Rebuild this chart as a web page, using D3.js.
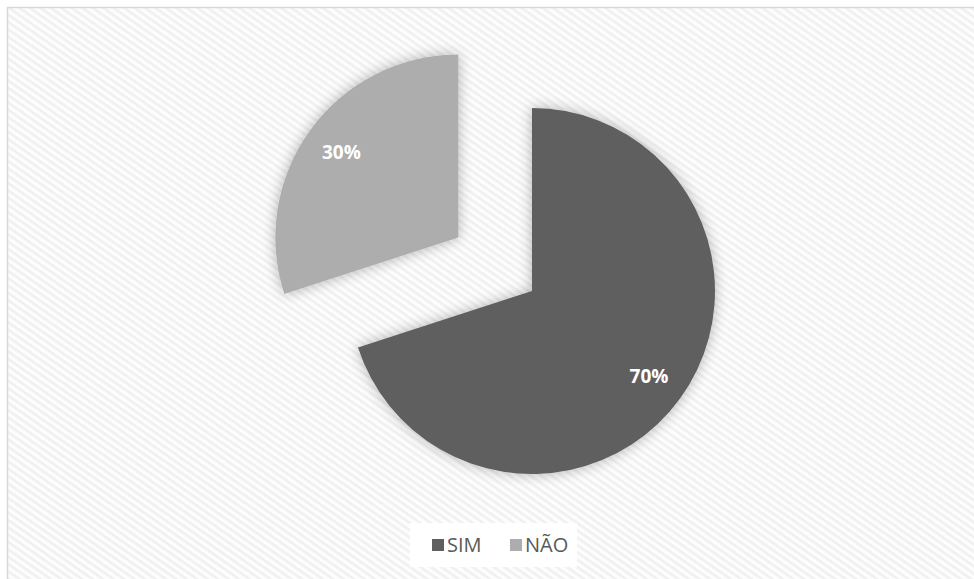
<!DOCTYPE html>
<html>
<head>
<meta charset="utf-8">
<script src="https://cdn.jsdelivr.net/npm/d3@7"></script>
<style>
  body { margin: 0; background: #ffffff; }
  svg { display: block; }
</style>
</head>
<body>
<script>
// chart data
const categories = ["SIM", "NÃO"];
const values = [70, 30];
const colors = ["#5f5f5f", "#adadad"];
const labels = ["70%", "30%"];
const explode = [0, 91];

const width = 974, height = 579;
const cx = 532, cy = 291, radius = 183;

const svg = d3.select("body").append("svg")
    .attr("width", width)
    .attr("height", height);

const defs = svg.append("defs");

// diagonal hatch for the chart area (lines running top-left to bottom-right)
const pat = defs.append("pattern")
    .attr("id", "hatch")
    .attr("patternUnits", "userSpaceOnUse")
    .attr("width", 6)
    .attr("height", 6)
    .attr("patternTransform", "rotate(35)");
pat.append("rect").attr("width", 6).attr("height", 6).attr("fill", "#fdfdfd");
pat.append("rect").attr("width", 6).attr("height", 2.6).attr("fill", "#f0f0f0");

// soft glow around the slices
const shadow = defs.append("filter")
    .attr("id", "glow")
    .attr("x", "-30%").attr("y", "-30%")
    .attr("width", "160%").attr("height", "160%");
shadow.append("feGaussianBlur").attr("in", "SourceAlpha").attr("stdDeviation", 7).attr("result", "blur");
shadow.append("feComponentTransfer").attr("in", "blur").attr("result", "soft")
    .append("feFuncA").attr("type", "linear").attr("slope", 0.3);
const merge = shadow.append("feMerge");
merge.append("feMergeNode").attr("in", "soft");
merge.append("feMergeNode").attr("in", "SourceGraphic");

// chart area with border
svg.append("rect")
    .attr("x", 7.5).attr("y", 7.5)
    .attr("width", width).attr("height", height)
    .attr("fill", "url(#hatch)")
    .attr("stroke", "#d9d9d9")
    .attr("stroke-width", 1.5);

const pie = d3.pie().sort(null).value(d => d)(values);
const arc = d3.arc().innerRadius(0).outerRadius(radius);

const slices = svg.append("g")
    .attr("transform", `translate(${cx},${cy})`)
    .selectAll("g")
    .data(pie)
    .join("g")
    .attr("transform", (d, i) => {
        const a = (d.startAngle + d.endAngle) / 2;
        return `translate(${Math.sin(a) * explode[i]},${-Math.cos(a) * explode[i]})`;
    });

slices.append("path")
    .attr("d", arc)
    .attr("fill", (d, i) => colors[i])
    .attr("filter", "url(#glow)");

// percentage labels
const labelArc = d3.arc().innerRadius(radius * 0.79).outerRadius(radius * 0.79);
slices.append("text")
    .attr("transform", d => `translate(${labelArc.centroid(d)})`)
    .attr("text-anchor", "middle")
    .attr("dy", "0.36em")
    .attr("fill", "#ffffff")
    .attr("font-family", "'Open Sans', sans-serif")
    .attr("font-weight", "bold")
    .attr("font-size", 19)
    .text((d, i) => labels[i]);

// legend
const legend = svg.append("g");
legend.append("rect")
    .attr("x", 410).attr("y", 523)
    .attr("width", 167).attr("height", 44)
    .attr("fill", "#ffffff");

const legendX = [432, 510];
const item = legend.selectAll("g")
    .data(categories)
    .join("g")
    .attr("transform", (d, i) => `translate(${legendX[i]},539)`);
item.append("rect")
    .attr("width", 12).attr("height", 12)
    .attr("fill", (d, i) => colors[i]);
item.append("text")
    .attr("x", 15).attr("y", 13)
    .attr("fill", "#595959")
    .attr("font-family", "'Open Sans', sans-serif")
    .attr("font-size", 20)
    .text(d => d);
</script>
</body>
</html>
